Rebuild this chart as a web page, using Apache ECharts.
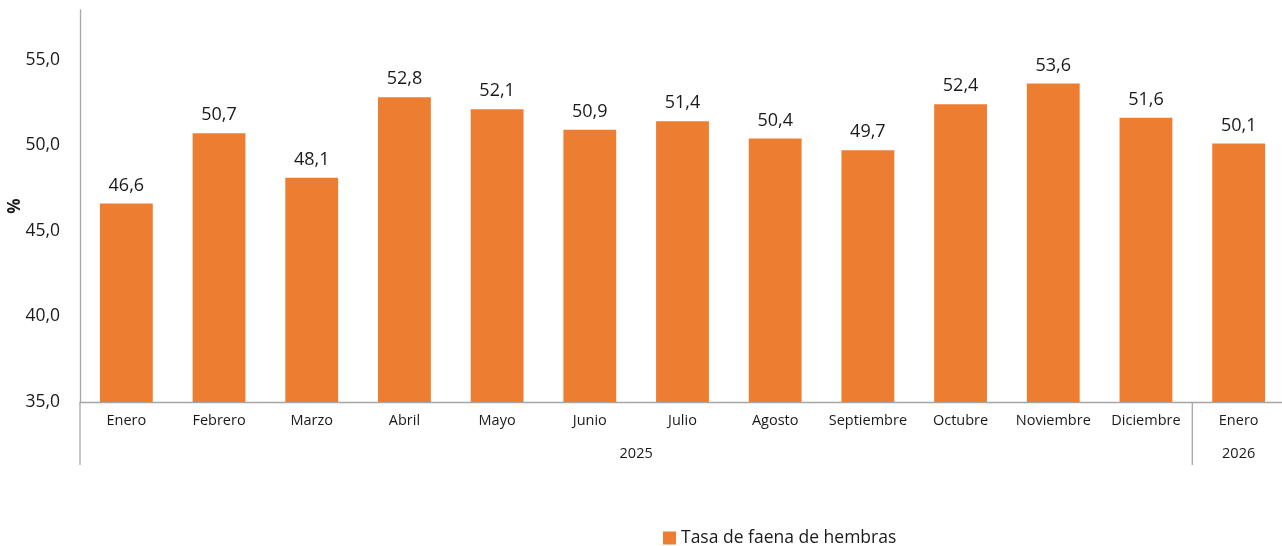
<!DOCTYPE html>
<html>
<head>
<meta charset="utf-8">
<script src="https://cdn.jsdelivr.net/npm/echarts@6/dist/echarts.min.js"></script>
<style>
	html, body { margin: 0; padding: 0; background: #fff; }
	#chart { width: 1282px; height: 546px; }
</style>
</head>
<body>
<div id="chart"></div>
<script>
var months = ['Enero', 'Febrero', 'Marzo', 'Abril', 'Mayo', 'Junio', 'Julio', 'Agosto', 'Septiembre', 'Octubre', 'Noviembre', 'Diciembre', 'Enero'];
var years = ['2025', '2026'];
var yearSpan = [12, 1]; // months under each year
var tasaHembras = [46.6, 50.7, 48.1, 52.8, 52.1, 50.9, 51.4, 50.4, 49.7, 52.4, 53.6, 51.6, 50.1];

var font = 'Open Sans',
	axisColor = '#a6a6a6',
	textColor = '#1a1a1a';

var myChart = echarts.init(document.getElementById('chart'), null, { renderer: 'canvas' });

function fmt(v) {
	return v.toFixed(1).replace('.', ',');
}

var option = {
	animation: false,
	grid: { left: 80, right: -3, top: 10, bottom: 144, containLabel: false, outerBoundsMode: 'none' },
	legend: {
		data: ['Tasa de faena de hembras'],
		left: 658,
		top: 524,
		icon: 'rect',
		itemWidth: 13,
		itemHeight: 13,
		itemGap: 5,
		textStyle: { fontFamily: font, fontSize: 17.5, color: textColor }
	},
	xAxis: {
		type: 'category',
		data: months.map(function (m, i) { return { value: m + '|' + i }; }),
		axisLine: { lineStyle: { color: axisColor, width: 1.3 } },
		axisTick: { show: false },
		axisLabel: {
			interval: 0,
			margin: 11,
			fontFamily: font,
			fontSize: 14.5,
			color: textColor,
			formatter: function (v) { return v.split('|')[0]; }
		}
	},
	yAxis: {
		type: 'value',
		min: 35,
		max: 57.9,
		interval: 5,
		axisLine: { show: true, lineStyle: { color: axisColor, width: 1.3 } },
		axisTick: { show: false },
		splitLine: { show: false },
		axisLabel: {
			margin: 20,
			showMaxLabel: false,
			fontFamily: font,
			fontSize: 17.5,
			color: textColor,
			formatter: function (v) { return fmt(v); }
		}
	},
	series: [{
		name: 'Tasa de faena de hembras',
		type: 'bar',
		data: tasaHembras,
		barWidth: '57%',
		itemStyle: { color: '#ED7D31' },
		label: {
			show: true,
			position: 'top',
			distance: 9,
			fontFamily: font,
			fontSize: 18,
			color: textColor,
			formatter: function (p) { return fmt(p.value); }
		}
	}]
};

myChart.setOption(option);

// second level of the category axis: year groups and separators
var yBase = myChart.convertToPixel({ yAxisIndex: 0 }, 35),
	yTop = myChart.convertToPixel({ yAxisIndex: 0 }, 57.9),
	yEnd = yBase + 63,
	step = myChart.convertToPixel({ xAxisIndex: 0 }, 1) - myChart.convertToPixel({ xAxisIndex: 0 }, 0),
	x0 = myChart.convertToPixel({ xAxisIndex: 0 }, 0) - step / 2,
	graphics = [],
	start = 0;

// axis title "%"
graphics.push({
	type: 'text',
	x: x0 - 65,
	y: (yBase + yTop) / 2,
	rotation: Math.PI / 2,
	style: {
		text: '%',
		fontFamily: font,
		fontSize: 17,
		fontWeight: 'bold',
		fill: textColor,
		align: 'center',
		verticalAlign: 'middle'
	}
});

graphics.push({
	type: 'line',
	shape: { x1: x0, y1: yBase, x2: x0, y2: yEnd },
	style: { stroke: axisColor, lineWidth: 1.3 }
});

years.forEach(function (yr, k) {
	var a = x0 + start * step,
		b = x0 + (start + yearSpan[k]) * step;
	graphics.push({
		type: 'text',
		x: (a + b) / 2,
		y: yBase + 52,
		style: {
			text: yr,
			fontFamily: font,
			fontSize: 14.5,
			fill: textColor,
			align: 'center',
			verticalAlign: 'middle'
		}
	});
	if (k < years.length - 1) {
		graphics.push({
			type: 'line',
			shape: { x1: b, y1: yBase, x2: b, y2: yEnd },
			style: { stroke: axisColor, lineWidth: 1.3 }
		});
	}
	start += yearSpan[k];
});

myChart.setOption({ graphic: graphics });
</script>
</body>
</html>
